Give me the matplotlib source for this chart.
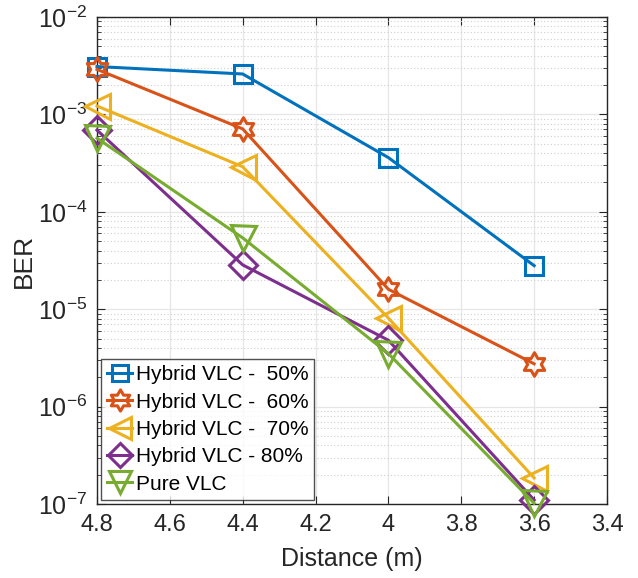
import numpy as np
import matplotlib
matplotlib.use("Agg")
from matplotlib import pyplot as plt
from matplotlib.path import Path
from matplotlib.ticker import LogLocator, MultipleLocator, NullFormatter, FormatStrFormatter

distance = [4.8, 4.4, 4.0, 3.6]
ber_50 = [3.1e-3, 2.6e-3, 3.6e-4, 2.8e-5]
ber_60 = [2.9e-3, 7.1e-4, 1.6e-5, 2.75e-6]
ber_70 = [1.22e-3, 2.9e-4, 8.1e-6, 1.85e-7]
ber_80 = [6.9e-4, 2.85e-5, 4.8e-6, 1.1e-7]
ber_pure = [5.7e-4, 5.4e-5, 3.5e-6, 1.02e-7]
labels = ["Hybrid VLC -  50%", "Hybrid VLC -  60%", "Hybrid VLC -  70%",
          "Hybrid VLC - 80%", "Pure VLC"]

plt.rcParams["font.family"] = ["Liberation Sans", "DejaVu Sans"]
plt.rcParams["mathtext.fontset"] = "custom"
plt.rcParams["mathtext.rm"] = "Liberation Sans"


def hexagram():
    # six-pointed star like MATLAB's 'hexagram'
    ang = np.pi / 2 + np.arange(12) * np.pi / 6
    r = np.where(np.arange(12) % 2 == 0, 1.0, 1 / np.sqrt(3))
    verts = np.column_stack([r * np.cos(ang), r * np.sin(ang)])
    verts = np.vstack([verts, verts[:1]])
    codes = [Path.MOVETO] + [Path.LINETO] * 11 + [Path.CLOSEPOLY]
    return Path(verts, codes)


colors = ["#0072BD", "#D95319", "#EDB120", "#7E2F8E", "#77AC30"]
markers = ["s", hexagram(), "<", "D", "v"]
sizes = [13, 17, 18, 14, 18]
series = [ber_50, ber_60, ber_70, ber_80, ber_pure]

fig = plt.figure(figsize=(6.38, 5.78), dpi=100)
ax = fig.add_axes([0.152, 0.128, 0.7994, 0.8426])

for y, c, m, s, lab in zip(series, colors, markers, sizes, labels):
    ax.plot(distance, y, color=c, lw=2.2, marker=m, markersize=s,
            markerfacecolor="none", markeredgewidth=2.2, label=lab,
            clip_on=False, zorder=3)

ax.set_yscale("log")
ax.set_ylim(1e-7, 1e-2)
ax.set_xlim(4.8, 3.4)
ax.xaxis.set_major_locator(MultipleLocator(0.2))
ax.xaxis.set_major_formatter(FormatStrFormatter("%g"))
ax.yaxis.set_major_locator(LogLocator(base=10, numticks=10))
ax.yaxis.set_minor_locator(LogLocator(base=10, subs=np.arange(2, 10), numticks=20))
ax.yaxis.set_minor_formatter(NullFormatter())

ax.grid(which="major", color="#e6e6e6", lw=0.9, ls="-", zorder=0)
ax.grid(which="minor", axis="y", color="#cfcfcf", lw=0.8, ls=(0, (1, 2)), zorder=0)
ax.set_axisbelow(True)

ax.tick_params(which="both", direction="in", top=True, right=True,
               colors="#262626")
ax.tick_params(axis="x", labelsize=17)
ax.tick_params(axis="y", labelsize=18)
ax.tick_params(which="major", length=6, pad=7)
ax.tick_params(which="minor", length=3)
for sp in ax.spines.values():
    sp.set_color("#262626")
    sp.set_linewidth(1.0)

ax.set_xlabel("Distance (m)", fontsize=18, color="#262626", labelpad=8)
ax.set_ylabel("BER", fontsize=19, color="#262626")
ax.yaxis.set_label_coords(-0.12, 0.5)

leg = ax.legend(loc="lower left", fontsize=15, frameon=True, fancybox=False,
                edgecolor="#262626", borderaxespad=0.2, handlelength=1.2,
                handletextpad=0.15, labelspacing=0.4, borderpad=0.3,
                markerscale=0.9)
leg.get_frame().set_linewidth(1.0)

fig.savefig("out.png", dpi=100)
